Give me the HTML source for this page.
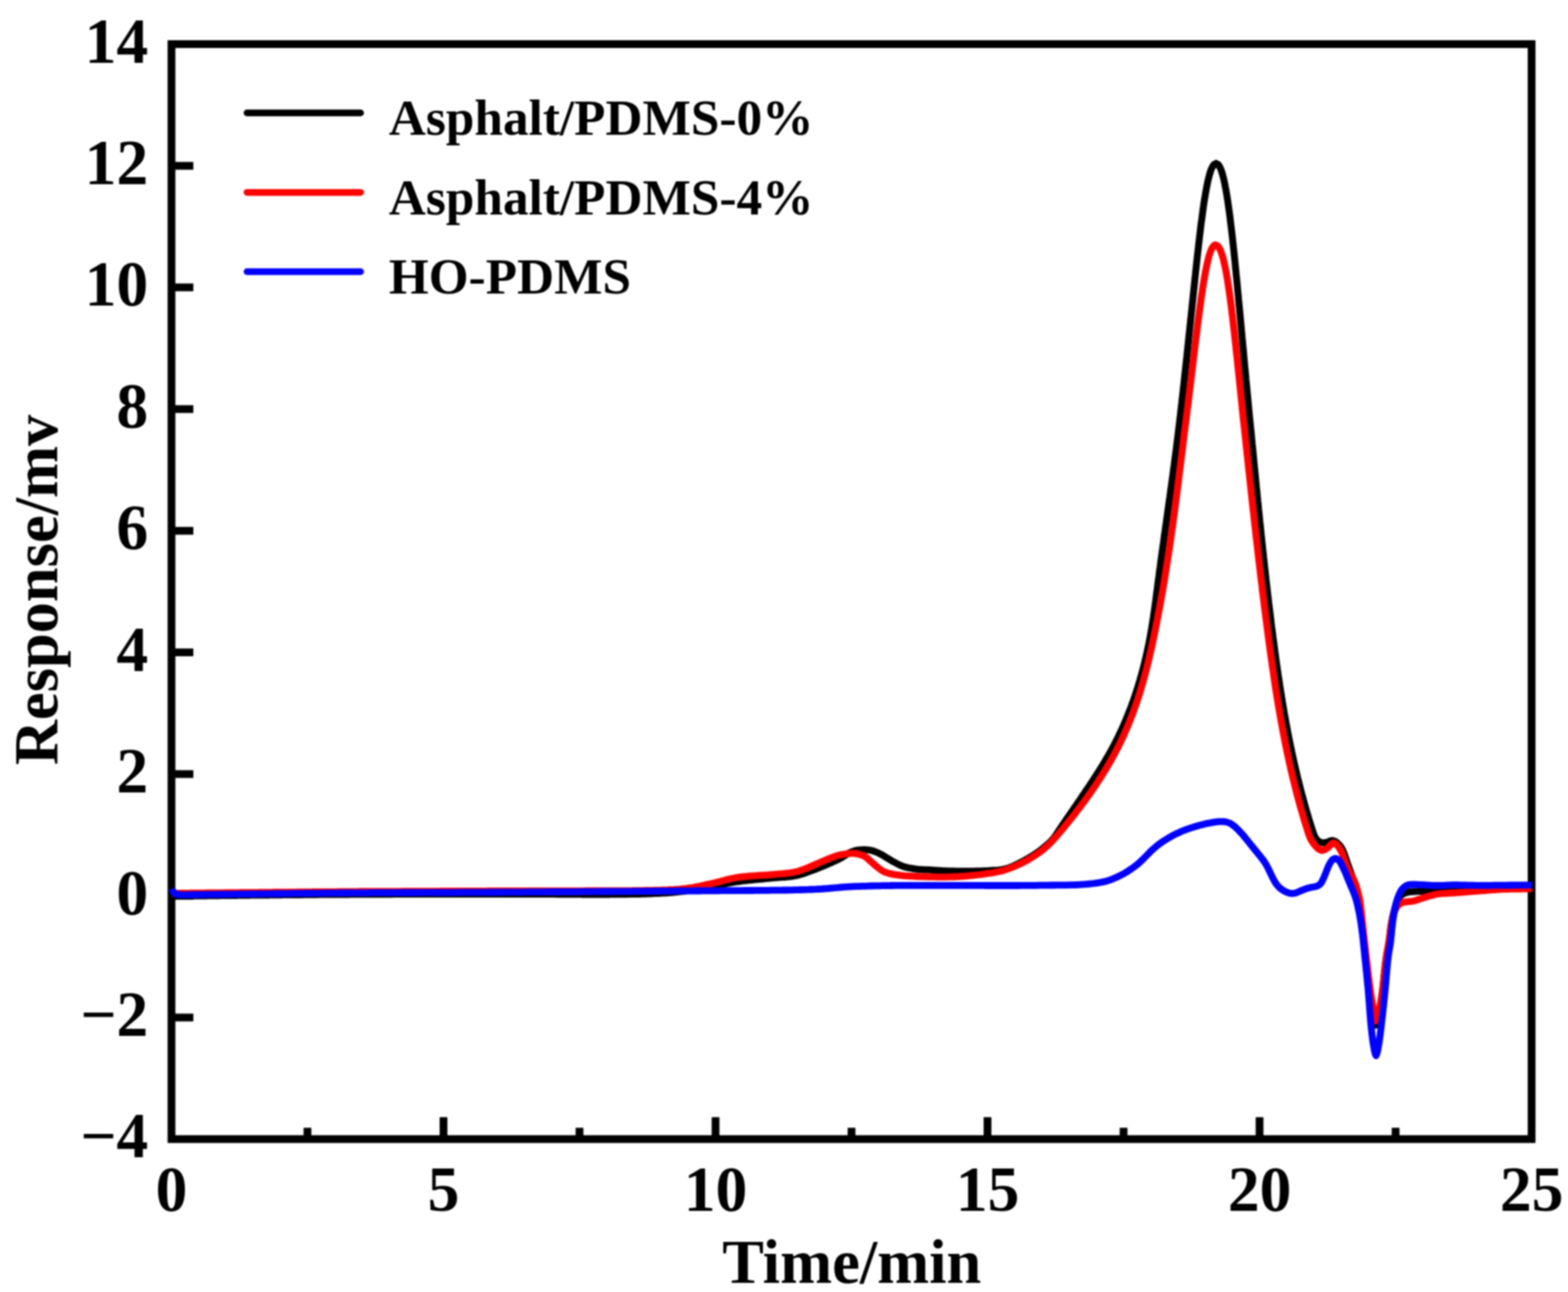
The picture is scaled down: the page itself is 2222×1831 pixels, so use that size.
<!DOCTYPE html><html><head><meta charset="utf-8"><style>html,body{margin:0;padding:0;background:#fff;}svg{display:block;filter:blur(0.8px);}text{font-family:"Liberation Serif","Times New Roman",serif;font-weight:bold;fill:#000;}</style></head><body>
<svg width="2222" height="1831" viewBox="0 0 2222 1831">
<rect x="0" y="0" width="2222" height="1831" fill="#fff"/>
<path d="M243.0 1441.9H274.0M243.0 1269.5H274.0M243.0 1097.0H274.0M243.0 924.6H274.0M243.0 752.2H274.0M243.0 579.8H274.0M243.0 407.3H274.0M243.0 234.9H274.0M435.7 1614.3V1598.3M628.5 1614.3V1583.3M821.2 1614.3V1598.3M1014.0 1614.3V1583.3M1206.7 1614.3V1598.3M1399.4 1614.3V1583.3M1592.2 1614.3V1598.3M1784.9 1614.3V1583.3M1977.7 1614.3V1598.3" stroke="#000" stroke-width="11" fill="none"/>
<rect x="243.0" y="62.5" width="1927.4" height="1551.8" fill="none" stroke="#000" stroke-width="11"/>
<g fill="none" stroke-width="9.8" stroke-linejoin="round" stroke-linecap="butt">
<path stroke="#000" d="M243.5 1270.0 L246.5 1270.0 L249.5 1269.9 L252.5 1269.9 L255.6 1269.9 L258.6 1269.8 L261.6 1269.8 L264.6 1269.8 L267.7 1269.7 L270.7 1269.7 L273.7 1269.7 L276.8 1269.6 L279.8 1269.6 L282.8 1269.6 L285.9 1269.5 L288.9 1269.5 L291.9 1269.5 L295.0 1269.4 L298.0 1269.4 L301.1 1269.4 L304.1 1269.3 L307.1 1269.3 L310.2 1269.3 L313.2 1269.2 L316.3 1269.2 L319.3 1269.2 L322.4 1269.1 L325.4 1269.1 L328.4 1269.1 L331.5 1269.0 L334.5 1269.0 L337.6 1268.9 L340.6 1268.9 L343.7 1268.9 L346.7 1268.8 L349.7 1268.8 L352.8 1268.8 L355.8 1268.7 L358.9 1268.7 L361.9 1268.7 L364.9 1268.6 L368.0 1268.6 L371.0 1268.6 L374.0 1268.5 L377.1 1268.5 L380.1 1268.5 L383.1 1268.4 L386.2 1268.4 L389.2 1268.4 L392.2 1268.3 L395.2 1268.3 L398.2 1268.3 L401.3 1268.2 L404.3 1268.2 L407.3 1268.2 L410.3 1268.1 L413.3 1268.1 L416.3 1268.1 L419.3 1268.1 L422.3 1268.0 L426.8 1268.0 L431.3 1267.9 L435.8 1267.9 L440.3 1267.9 L444.7 1267.8 L449.2 1267.8 L453.6 1267.7 L458.1 1267.7 L462.5 1267.7 L466.9 1267.6 L471.4 1267.6 L475.8 1267.6 L480.2 1267.5 L484.5 1267.5 L487.6 1267.5 L490.7 1267.5 L493.7 1267.5 L496.8 1267.4 L499.9 1267.4 L503.0 1267.4 L506.0 1267.4 L509.1 1267.4 L512.1 1267.4 L515.2 1267.4 L518.2 1267.3 L521.2 1267.3 L524.3 1267.3 L527.3 1267.3 L530.3 1267.3 L533.3 1267.3 L536.3 1267.3 L540.8 1267.3 L545.3 1267.3 L549.8 1267.3 L554.2 1267.3 L558.7 1267.2 L563.2 1267.2 L567.6 1267.2 L572.1 1267.2 L576.5 1267.2 L581.0 1267.2 L585.4 1267.2 L589.8 1267.2 L594.3 1267.2 L598.7 1267.2 L603.2 1267.2 L607.6 1267.2 L612.1 1267.2 L616.5 1267.2 L621.0 1267.2 L625.4 1267.2 L629.9 1267.2 L634.4 1267.2 L638.9 1267.2 L643.4 1267.2 L646.4 1267.2 L649.4 1267.2 L652.4 1267.2 L655.4 1267.2 L658.5 1267.1 L661.5 1267.1 L664.5 1267.1 L667.6 1267.1 L670.6 1267.1 L673.7 1267.1 L676.8 1267.1 L679.8 1267.1 L682.9 1267.1 L686.0 1267.1 L689.1 1267.1 L692.2 1267.0 L695.3 1267.0 L698.4 1267.0 L701.5 1267.0 L705.9 1267.0 L710.3 1267.0 L713.3 1267.0 L716.4 1267.0 L717.9 1267.0 L721.0 1267.0 L724.1 1267.0 L727.2 1267.0 L730.3 1267.0 L733.5 1267.0 L736.7 1267.0 L739.9 1267.0 L743.1 1267.0 L746.3 1267.0 L749.6 1267.0 L752.8 1267.1 L756.1 1267.1 L759.4 1267.1 L762.7 1267.1 L766.0 1267.1 L769.4 1267.1 L772.7 1267.2 L776.0 1267.2 L779.4 1267.2 L782.7 1267.2 L786.1 1267.2 L789.4 1267.3 L792.8 1267.3 L796.2 1267.3 L799.5 1267.3 L802.9 1267.3 L806.3 1267.4 L809.6 1267.4 L813.0 1267.4 L816.3 1267.4 L819.7 1267.4 L823.0 1267.4 L826.3 1267.5 L829.7 1267.5 L833.0 1267.5 L836.3 1267.5 L839.6 1267.5 L842.9 1267.5 L846.1 1267.5 L849.4 1267.5 L852.6 1267.5 L855.8 1267.5 L859.0 1267.5 L862.2 1267.5 L865.4 1267.4 L868.5 1267.4 L871.6 1267.4 L874.7 1267.4 L877.8 1267.4 L880.8 1267.3 L883.9 1267.3 L888.3 1267.3 L892.8 1267.2 L897.1 1267.1 L901.4 1267.0 L905.6 1267.0 L909.7 1266.9 L913.8 1266.8 L917.7 1266.6 L921.6 1266.5 L925.4 1266.4 L929.1 1266.2 L932.7 1266.1 L936.1 1265.9 L939.5 1265.7 L942.8 1265.5 L946.0 1265.3 L949.0 1265.1 L952.0 1264.8 L955.9 1264.5 L959.7 1264.1 L963.3 1263.7 L966.7 1263.3 L970.1 1262.8 L973.3 1262.4 L976.4 1261.9 L979.4 1261.4 L983.7 1260.7 L987.9 1259.9 L992.0 1259.1 L995.9 1258.4 L999.8 1257.6 L1003.7 1256.9 L1007.7 1256.2 L1010.7 1255.7 L1013.9 1255.2 L1017.0 1254.6 L1020.0 1254.0 L1024.4 1253.2 L1028.7 1252.3 L1033.0 1251.5 L1037.3 1250.7 L1040.3 1250.2 L1043.4 1249.7 L1046.4 1249.3 L1050.8 1248.7 L1053.8 1248.4 L1056.8 1248.0 L1059.9 1247.7 L1063.0 1247.3 L1066.1 1247.0 L1069.3 1246.7 L1072.4 1246.4 L1075.5 1246.1 L1078.6 1245.8 L1081.7 1245.5 L1084.7 1245.2 L1089.1 1244.8 L1093.6 1244.3 L1096.8 1244.1 L1100.0 1243.8 L1103.1 1243.6 L1106.3 1243.4 L1109.4 1243.2 L1112.4 1243.0 L1115.4 1242.7 L1119.8 1242.3 L1124.0 1241.7 L1128.0 1241.0 L1131.2 1240.3 L1134.3 1239.4 L1137.3 1238.5 L1140.2 1237.6 L1144.4 1236.0 L1148.6 1234.5 L1151.5 1233.4 L1154.5 1232.3 L1157.4 1231.2 L1160.3 1230.0 L1163.2 1228.8 L1166.1 1227.6 L1169.0 1226.4 L1171.9 1225.2 L1174.8 1223.9 L1177.7 1222.7 L1180.6 1221.4 L1183.6 1220.1 L1186.5 1218.7 L1189.3 1217.3 L1192.1 1215.8 L1194.8 1214.1 L1197.6 1212.4 L1200.3 1210.7 L1203.1 1209.0 L1205.9 1207.6 L1210.0 1206.0 L1213.2 1205.2 L1216.6 1204.7 L1219.9 1204.4 L1223.1 1204.2 L1224.7 1204.2 L1229.0 1204.4 L1232.6 1204.8 L1235.8 1205.5 L1239.0 1206.5 L1241.9 1207.6 L1244.8 1208.9 L1247.6 1210.3 L1250.3 1211.7 L1254.1 1214.1 L1256.7 1215.7 L1259.4 1217.3 L1262.2 1219.0 L1265.1 1220.7 L1268.0 1222.3 L1270.8 1223.8 L1273.5 1225.2 L1276.4 1226.6 L1279.3 1227.7 L1283.7 1228.9 L1286.7 1229.7 L1290.0 1230.3 L1293.3 1230.9 L1296.4 1231.4 L1300.7 1231.9 L1303.7 1232.1 L1306.8 1232.3 L1309.9 1232.5 L1313.1 1232.6 L1316.3 1232.7 L1319.4 1232.9 L1322.5 1233.1 L1325.5 1233.3 L1330.0 1233.6 L1334.4 1233.9 L1337.5 1234.1 L1340.6 1234.2 L1343.9 1234.3 L1347.2 1234.5 L1350.3 1234.5 L1354.5 1234.6 L1359.0 1234.6 L1362.1 1234.7 L1365.2 1234.7 L1366.8 1234.7 L1370.1 1234.7 L1373.4 1234.7 L1376.6 1234.6 L1379.9 1234.6 L1383.1 1234.5 L1386.2 1234.5 L1389.3 1234.4 L1393.7 1234.2 L1397.7 1234.1 L1400.8 1233.9 L1404.3 1233.7 L1407.7 1233.5 L1410.9 1233.3 L1414.0 1233.1 L1418.4 1232.5 L1422.6 1231.8 L1425.6 1231.1 L1428.7 1230.2 L1431.7 1229.1 L1434.5 1227.9 L1437.3 1226.7 L1441.4 1224.7 L1444.2 1223.3 L1446.9 1221.9 L1449.6 1220.5 L1452.3 1219.0 L1454.9 1217.5 L1457.6 1216.0 L1460.2 1214.4 L1462.9 1212.8 L1465.6 1211.1 L1468.5 1209.2 L1471.3 1207.2 L1474.1 1205.2 L1476.5 1203.3 L1478.9 1201.3 L1482.2 1198.5 L1485.7 1195.5 L1488.1 1193.2 L1490.5 1190.8 L1492.6 1188.4 L1494.5 1185.9 L1496.4 1183.3 L1498.1 1180.7 L1499.9 1178.0 L1501.7 1175.4 L1503.4 1172.7 L1505.2 1170.0 L1507.0 1167.3 L1508.9 1164.7 L1510.7 1162.0 L1512.5 1159.3 L1514.3 1156.7 L1516.1 1154.0 L1518.0 1151.3 L1519.8 1148.7 L1521.6 1146.0 L1523.5 1143.3 L1525.3 1140.7 L1527.1 1138.0 L1529.0 1135.3 L1530.8 1132.7 L1532.6 1130.0 L1534.4 1127.3 L1536.2 1124.7 L1538.0 1122.0 L1539.8 1119.3 L1541.6 1116.6 L1543.4 1114.0 L1545.2 1111.3 L1547.0 1108.6 L1548.7 1106.0 L1550.5 1103.3 L1552.2 1100.6 L1553.9 1098.0 L1555.6 1095.3 L1557.3 1092.6 L1559.0 1090.0 L1560.6 1087.3 L1562.3 1084.6 L1563.9 1082.0 L1565.5 1079.3 L1567.1 1076.6 L1568.6 1074.0 L1570.2 1071.3 L1571.7 1068.6 L1573.2 1066.0 L1575.4 1062.1 L1577.4 1058.2 L1579.5 1054.3 L1581.1 1051.1 L1582.8 1047.7 L1584.5 1044.4 L1586.0 1041.2 L1587.6 1038.0 L1589.0 1034.8 L1590.5 1031.6 L1591.9 1028.4 L1593.3 1025.2 L1594.7 1022.0 L1596.0 1018.8 L1597.3 1015.6 L1598.6 1012.4 L1599.9 1009.2 L1601.1 1006.0 L1602.4 1002.8 L1603.6 999.6 L1604.7 996.4 L1605.9 993.2 L1607.0 990.0 L1608.1 986.8 L1609.2 983.6 L1610.2 980.4 L1611.3 977.2 L1612.3 974.0 L1613.3 970.8 L1614.2 967.6 L1615.2 964.4 L1616.1 961.2 L1617.0 958.0 L1617.9 954.8 L1618.8 951.6 L1619.6 948.4 L1620.5 945.2 L1621.3 942.0 L1622.1 938.8 L1622.8 935.6 L1623.6 932.4 L1624.3 929.2 L1625.1 926.0 L1625.8 922.8 L1626.4 919.6 L1627.1 916.4 L1627.8 913.2 L1628.4 910.0 L1629.0 906.8 L1629.6 903.6 L1630.2 900.4 L1630.8 897.2 L1631.3 894.0 L1631.9 890.8 L1632.4 887.6 L1632.9 884.4 L1633.4 881.2 L1633.9 878.0 L1634.4 874.8 L1634.9 871.6 L1635.3 868.4 L1635.8 865.2 L1636.3 862.0 L1636.7 858.8 L1637.1 855.6 L1637.6 852.4 L1638.0 849.2 L1638.4 846.0 L1638.8 842.8 L1639.2 839.6 L1639.7 836.4 L1640.1 833.2 L1640.5 830.0 L1640.9 826.8 L1641.3 823.6 L1641.7 820.4 L1642.2 817.2 L1642.6 814.0 L1643.0 810.8 L1643.4 807.6 L1643.9 804.4 L1644.3 801.2 L1644.7 798.0 L1645.1 794.8 L1645.6 791.6 L1646.0 788.4 L1646.4 785.2 L1646.9 782.0 L1647.3 778.8 L1647.8 775.6 L1648.2 772.4 L1648.7 769.2 L1649.1 766.0 L1649.5 762.8 L1650.0 759.6 L1650.4 756.4 L1650.9 753.2 L1651.3 750.0 L1651.8 746.8 L1652.2 743.6 L1652.7 740.4 L1653.1 737.2 L1653.6 734.0 L1654.0 730.8 L1654.5 727.6 L1654.9 724.4 L1655.3 721.2 L1655.8 718.0 L1656.2 714.8 L1656.7 711.6 L1657.1 708.4 L1657.6 705.2 L1658.0 702.0 L1658.5 698.8 L1658.9 695.6 L1659.3 692.4 L1659.8 689.2 L1660.2 686.0 L1660.7 682.8 L1661.1 679.6 L1661.5 676.4 L1662.0 673.2 L1662.4 670.0 L1662.8 666.8 L1663.2 663.6 L1663.7 660.4 L1664.1 657.2 L1664.5 654.0 L1664.9 650.8 L1665.3 647.6 L1665.8 644.4 L1666.2 641.2 L1666.6 638.0 L1667.0 634.8 L1667.4 631.6 L1667.8 628.4 L1668.2 625.2 L1668.6 622.0 L1669.0 618.8 L1669.4 615.5 L1669.8 612.2 L1670.2 608.9 L1670.6 605.7 L1671.1 601.6 L1671.6 597.5 L1672.1 593.0 L1672.5 589.8 L1672.9 586.6 L1673.2 583.4 L1673.6 580.2 L1674.0 576.9 L1674.3 573.7 L1674.7 570.5 L1675.0 567.3 L1675.4 564.1 L1675.8 560.9 L1676.1 557.8 L1676.5 554.6 L1676.8 551.5 L1677.1 548.4 L1677.5 545.3 L1677.8 542.2 L1678.2 539.1 L1678.5 536.0 L1678.8 533.0 L1679.1 530.0 L1679.5 527.0 L1679.8 524.0 L1680.1 521.0 L1680.5 517.7 L1680.8 514.5 L1681.2 511.2 L1681.5 508.0 L1681.9 504.8 L1682.2 501.6 L1682.5 498.4 L1682.9 495.2 L1683.2 492.1 L1683.5 489.0 L1683.9 485.9 L1684.2 482.8 L1684.5 479.7 L1684.8 476.7 L1685.1 473.7 L1685.5 470.7 L1685.8 467.7 L1686.1 464.7 L1686.4 461.4 L1686.8 458.1 L1687.1 454.8 L1687.4 451.5 L1687.8 448.3 L1688.1 445.1 L1688.4 442.0 L1688.8 438.8 L1689.1 435.7 L1689.4 432.6 L1689.7 429.5 L1690.1 426.4 L1690.4 423.4 L1690.7 420.4 L1691.0 417.4 L1691.5 412.7 L1691.8 409.4 L1692.2 406.1 L1692.5 402.8 L1692.9 399.6 L1693.2 396.4 L1693.5 393.2 L1693.9 390.0 L1694.2 386.9 L1694.5 383.8 L1694.9 380.7 L1695.2 377.7 L1695.5 374.7 L1696.0 370.3 L1696.4 366.9 L1696.7 363.5 L1697.1 360.2 L1697.5 356.9 L1697.8 353.7 L1698.2 350.5 L1698.5 347.3 L1698.9 344.2 L1699.2 341.1 L1699.6 338.1 L1699.9 335.2 L1700.5 330.5 L1700.9 327.0 L1701.3 323.6 L1701.7 320.3 L1702.1 317.1 L1702.5 313.9 L1703.0 310.7 L1703.4 307.6 L1703.9 303.9 L1704.4 300.2 L1704.8 296.7 L1705.3 293.2 L1705.8 289.8 L1706.3 286.5 L1706.8 283.3 L1707.3 280.2 L1708.0 276.3 L1708.6 272.5 L1709.3 268.8 L1709.9 265.4 L1710.6 262.1 L1711.2 258.9 L1712.2 254.5 L1713.2 250.5 L1714.2 246.9 L1715.1 243.7 L1716.1 240.8 L1718.2 236.3 L1720.2 233.2 L1723.3 231.5 L1726.4 233.2 L1728.4 236.3 L1730.4 240.8 L1731.4 243.7 L1732.3 246.9 L1733.3 250.5 L1734.3 254.5 L1735.3 258.9 L1735.9 262.1 L1736.5 265.4 L1737.2 268.8 L1737.8 272.5 L1738.5 276.3 L1739.1 280.2 L1739.6 283.3 L1740.1 286.5 L1740.5 289.8 L1741.0 293.2 L1741.5 296.7 L1742.0 300.2 L1742.5 303.9 L1743.0 307.6 L1743.3 310.7 L1743.7 313.9 L1744.1 317.1 L1744.5 320.3 L1744.9 323.6 L1745.3 327.0 L1745.7 330.5 L1746.1 333.7 L1746.6 338.1 L1746.9 341.1 L1747.2 344.2 L1747.6 347.3 L1747.9 350.5 L1748.3 353.7 L1748.6 356.9 L1748.9 360.2 L1749.3 363.5 L1749.6 366.9 L1750.0 370.3 L1750.4 374.7 L1750.7 377.7 L1751.0 380.7 L1751.3 383.8 L1751.6 386.9 L1751.9 390.0 L1752.2 393.2 L1752.6 396.4 L1752.9 399.6 L1753.2 402.8 L1753.5 406.1 L1753.8 409.4 L1754.1 412.7 L1754.4 415.9 L1754.9 420.4 L1755.1 423.4 L1755.4 426.4 L1755.7 429.5 L1756.0 432.6 L1756.3 435.7 L1756.6 438.8 L1756.9 442.0 L1757.2 445.1 L1757.5 448.3 L1757.8 451.5 L1758.1 454.8 L1758.4 458.1 L1758.7 461.4 L1759.0 464.7 L1759.4 469.2 L1759.7 472.2 L1760.0 475.2 L1760.2 478.2 L1760.5 481.3 L1760.8 484.3 L1761.1 487.4 L1761.4 490.5 L1761.7 493.7 L1762.0 496.8 L1762.3 500.0 L1762.5 503.2 L1762.8 506.4 L1763.1 509.6 L1763.4 512.8 L1763.7 516.1 L1764.0 519.4 L1764.3 522.5 L1764.6 525.5 L1764.9 528.5 L1765.2 531.5 L1765.5 534.5 L1765.7 537.6 L1766.0 540.7 L1766.3 543.7 L1766.6 546.8 L1766.9 549.9 L1767.2 553.0 L1767.5 556.2 L1767.8 559.3 L1768.1 562.5 L1768.4 565.7 L1768.7 568.9 L1769.0 572.1 L1769.3 575.3 L1769.6 578.6 L1769.9 581.8 L1770.2 585.0 L1770.5 588.2 L1770.8 591.4 L1771.1 594.6 L1771.6 598.8 L1772.0 603.0 L1772.4 607.3 L1772.8 610.5 L1773.1 613.9 L1773.4 617.2 L1773.7 620.4 L1774.0 623.6 L1774.3 626.8 L1774.6 630.0 L1775.0 633.2 L1775.3 636.4 L1775.6 639.6 L1775.9 642.8 L1776.2 646.0 L1776.5 649.2 L1776.8 652.4 L1777.1 655.6 L1777.4 658.8 L1777.7 662.0 L1778.0 665.2 L1778.4 668.4 L1778.7 671.6 L1779.0 674.8 L1779.3 678.0 L1779.6 681.2 L1779.9 684.4 L1780.2 687.6 L1780.5 690.8 L1780.9 694.0 L1781.2 697.2 L1781.5 700.4 L1781.8 703.6 L1782.1 706.8 L1782.4 710.0 L1782.8 713.2 L1783.1 716.4 L1783.4 719.6 L1783.7 722.8 L1784.1 726.0 L1784.4 729.2 L1784.7 732.4 L1785.0 735.6 L1785.3 738.8 L1785.7 742.0 L1786.0 745.2 L1786.3 748.4 L1786.7 751.6 L1787.0 754.8 L1787.3 758.0 L1787.7 761.2 L1788.0 764.4 L1788.3 767.6 L1788.7 770.8 L1789.0 774.0 L1789.3 777.2 L1789.7 780.4 L1790.0 783.6 L1790.4 786.8 L1790.7 790.0 L1791.1 793.2 L1791.4 796.4 L1791.8 799.6 L1792.1 802.8 L1792.5 806.0 L1792.8 809.2 L1793.2 812.4 L1793.5 815.6 L1793.9 818.8 L1794.2 822.0 L1794.6 825.2 L1795.0 828.4 L1795.3 831.6 L1795.7 834.8 L1796.1 838.0 L1796.4 841.2 L1796.8 844.4 L1797.2 847.6 L1797.6 850.8 L1797.9 854.0 L1798.3 857.2 L1798.7 860.4 L1799.1 863.6 L1799.5 866.8 L1799.9 870.0 L1800.3 873.2 L1800.7 876.4 L1801.1 879.6 L1801.4 882.8 L1801.8 886.0 L1802.2 889.2 L1802.7 892.4 L1803.1 895.6 L1803.5 898.8 L1803.9 902.0 L1804.3 905.2 L1804.7 908.4 L1805.1 911.6 L1805.6 914.8 L1806.0 918.0 L1806.4 921.2 L1806.8 924.4 L1807.3 927.6 L1807.7 930.8 L1808.1 934.0 L1808.6 937.2 L1809.0 940.4 L1809.5 943.6 L1809.9 946.8 L1810.4 950.0 L1810.9 953.2 L1811.3 956.4 L1811.8 959.6 L1812.3 962.8 L1812.8 966.0 L1813.3 969.2 L1813.7 972.4 L1814.2 975.6 L1814.7 978.8 L1815.2 982.0 L1815.8 985.2 L1816.3 988.4 L1816.8 991.6 L1817.3 994.8 L1817.9 998.0 L1818.4 1001.2 L1818.9 1004.4 L1819.5 1007.6 L1820.0 1010.8 L1820.6 1014.0 L1821.2 1017.2 L1821.8 1020.4 L1822.3 1023.6 L1822.9 1026.8 L1823.5 1030.0 L1824.1 1033.2 L1824.7 1036.4 L1825.3 1039.6 L1826.0 1042.8 L1826.6 1046.0 L1827.2 1049.2 L1827.9 1052.4 L1828.5 1055.6 L1829.2 1058.8 L1829.9 1062.0 L1830.5 1065.2 L1831.2 1068.4 L1831.9 1071.6 L1832.6 1074.8 L1833.3 1078.0 L1834.0 1081.2 L1834.8 1084.4 L1835.5 1087.6 L1836.2 1090.8 L1837.0 1094.0 L1837.8 1097.2 L1838.5 1100.4 L1839.3 1103.6 L1840.1 1106.8 L1840.9 1110.0 L1841.7 1113.2 L1842.5 1116.4 L1843.3 1119.6 L1844.2 1122.8 L1845.0 1126.0 L1845.9 1129.2 L1846.8 1132.4 L1847.6 1135.6 L1848.5 1138.8 L1849.4 1142.0 L1850.3 1145.2 L1851.2 1148.4 L1852.2 1151.6 L1853.1 1154.8 L1854.1 1158.0 L1855.0 1161.2 L1856.0 1164.4 L1857.0 1167.6 L1858.0 1170.8 L1859.0 1173.9 L1860.0 1177.1 L1861.1 1180.3 L1862.3 1183.6 L1863.8 1186.8 L1866.3 1190.3 L1869.9 1193.1 L1873.0 1194.3 L1875.7 1194.4 L1879.0 1193.9 L1882.4 1193.1 L1885.2 1191.6 L1888.4 1191.2 L1892.6 1192.7 L1895.2 1194.6 L1897.7 1197.1 L1900.0 1200.0 L1902.1 1203.5 L1903.4 1206.3 L1904.6 1209.3 L1905.7 1212.4 L1906.8 1215.6 L1907.9 1218.9 L1908.9 1222.0 L1910.0 1225.0 L1911.1 1227.9 L1912.1 1230.8 L1913.2 1233.7 L1914.2 1236.5 L1915.2 1239.4 L1916.2 1242.2 L1917.1 1245.1 L1918.0 1248.0 L1918.9 1251.1 L1919.8 1254.1 L1920.6 1257.2 L1921.4 1260.3 L1922.2 1263.4 L1922.9 1266.5 L1923.7 1269.5 L1924.3 1272.5 L1925.0 1275.5 L1925.9 1279.9 L1926.7 1284.3 L1927.2 1287.3 L1927.7 1290.4 L1928.2 1293.4 L1928.9 1297.8 L1929.2 1300.8 L1929.6 1303.9 L1930.0 1307.0 L1930.4 1310.1 L1930.7 1313.4 L1931.1 1316.6 L1931.5 1320.0 L1932.0 1324.3 L1932.5 1328.7 L1932.8 1331.7 L1933.2 1334.8 L1933.5 1337.9 L1933.9 1341.0 L1934.2 1344.1 L1934.6 1347.3 L1934.9 1350.5 L1935.3 1353.6 L1935.6 1356.8 L1936.0 1360.0 L1936.5 1364.4 L1936.9 1367.5 L1937.2 1370.5 L1937.6 1373.6 L1938.0 1376.7 L1938.3 1379.8 L1938.7 1382.9 L1939.1 1386.0 L1939.5 1389.1 L1939.8 1392.1 L1940.2 1395.1 L1940.8 1399.4 L1941.3 1403.6 L1941.7 1406.6 L1942.2 1409.9 L1942.6 1413.1 L1943.1 1416.3 L1943.5 1419.3 L1944.0 1422.4 L1944.6 1426.8 L1945.3 1431.0 L1946.0 1435.0 L1946.6 1438.7 L1947.1 1442.7 L1947.7 1446.5 L1948.2 1449.8 L1949.2 1452.8 L1949.5 1453.0 L1951.1 1449.9 L1952.0 1446.6 L1952.9 1442.7 L1953.7 1438.7 L1954.5 1435.0 L1955.3 1431.0 L1956.0 1426.8 L1956.7 1422.4 L1957.1 1419.4 L1957.5 1416.3 L1957.9 1413.1 L1958.4 1409.9 L1958.8 1406.6 L1959.2 1403.6 L1959.7 1399.4 L1960.0 1396.4 L1960.3 1393.3 L1960.7 1390.2 L1961.0 1387.0 L1961.3 1383.8 L1961.6 1380.7 L1961.9 1377.5 L1962.3 1374.4 L1962.6 1371.3 L1962.9 1368.3 L1963.5 1364.0 L1964.0 1360.0 L1964.5 1356.5 L1965.1 1353.3 L1965.7 1350.1 L1966.3 1347.1 L1966.9 1344.2 L1967.4 1341.2 L1968.0 1338.1 L1968.5 1335.0 L1968.9 1331.9 L1969.3 1328.8 L1969.7 1325.5 L1970.0 1322.3 L1970.4 1319.0 L1970.7 1315.9 L1971.1 1312.8 L1971.8 1308.4 L1972.3 1305.3 L1973.0 1302.0 L1973.7 1298.8 L1974.5 1295.8 L1975.2 1292.8 L1976.4 1288.4 L1977.2 1285.2 L1978.0 1282.2 L1979.5 1278.0 L1980.8 1275.0 L1982.3 1272.3 L1985.3 1268.7 L1988.4 1266.8 L1991.6 1265.3 L1995.1 1264.4 L1998.4 1263.8 L2002.9 1263.5 L2006.4 1263.3 L2009.6 1263.1 L2013.1 1263.0 L2017.3 1262.8 L2020.3 1262.7 L2023.4 1262.6 L2026.7 1262.5 L2030.0 1262.3 L2033.4 1262.2 L2036.8 1262.1 L2040.2 1261.9 L2043.5 1261.8 L2046.7 1261.6 L2049.7 1261.5 L2054.0 1261.2 L2057.2 1260.9 L2061.6 1260.5 L2065.7 1260.1 L2069.7 1259.6 L2074.0 1259.1 L2077.2 1258.9 L2080.6 1258.6 L2084.7 1258.4 L2088.3 1258.2 L2092.0 1258.1 L2096.0 1258.0 L2100.1 1257.9 L2104.4 1257.9 L2108.9 1257.8 L2111.9 1257.8 L2115.0 1257.8 L2118.1 1257.7 L2121.3 1257.7 L2124.5 1257.7 L2127.7 1257.7 L2131.0 1257.7 L2134.2 1257.7 L2137.5 1257.7 L2140.8 1257.7 L2144.1 1257.6 L2147.3 1257.6 L2150.6 1257.6 L2153.8 1257.6 L2157.0 1257.6 L2160.2 1257.6 L2163.3 1257.6 L2166.4 1257.5 L2169.5 1257.5 L2171.0 1257.5"/>
<path stroke="#f00" d="M243.5 1266.0 L246.5 1266.0 L249.5 1265.9 L252.5 1265.9 L255.6 1265.9 L258.6 1265.9 L261.6 1265.8 L264.6 1265.8 L267.7 1265.8 L270.7 1265.7 L273.7 1265.7 L276.8 1265.7 L279.8 1265.6 L282.8 1265.6 L285.9 1265.6 L288.9 1265.6 L291.9 1265.5 L295.0 1265.5 L298.0 1265.5 L301.1 1265.4 L304.1 1265.4 L307.1 1265.4 L310.2 1265.3 L313.2 1265.3 L316.3 1265.3 L319.3 1265.2 L322.4 1265.2 L325.4 1265.2 L328.4 1265.1 L331.5 1265.1 L334.5 1265.1 L337.6 1265.1 L340.6 1265.0 L343.7 1265.0 L346.7 1265.0 L349.7 1264.9 L352.8 1264.9 L355.8 1264.9 L358.9 1264.8 L361.9 1264.8 L364.9 1264.8 L368.0 1264.7 L371.0 1264.7 L374.0 1264.7 L377.1 1264.7 L380.1 1264.6 L383.1 1264.6 L386.2 1264.6 L389.2 1264.5 L392.2 1264.5 L395.2 1264.5 L398.2 1264.4 L401.3 1264.4 L404.3 1264.4 L407.3 1264.4 L410.3 1264.3 L413.3 1264.3 L416.3 1264.3 L419.3 1264.3 L422.3 1264.2 L426.8 1264.2 L431.3 1264.1 L435.8 1264.1 L440.3 1264.1 L444.7 1264.0 L449.2 1264.0 L453.6 1263.9 L458.1 1263.9 L462.5 1263.9 L466.9 1263.8 L471.4 1263.8 L475.8 1263.8 L480.2 1263.7 L484.5 1263.7 L487.6 1263.7 L490.7 1263.7 L493.7 1263.6 L496.8 1263.6 L499.9 1263.6 L503.0 1263.6 L506.0 1263.6 L509.1 1263.5 L512.1 1263.5 L515.2 1263.5 L518.2 1263.5 L521.2 1263.5 L524.3 1263.5 L527.3 1263.4 L530.3 1263.4 L533.3 1263.4 L536.3 1263.4 L540.8 1263.4 L545.3 1263.4 L549.8 1263.3 L554.2 1263.3 L558.7 1263.3 L563.2 1263.3 L567.6 1263.3 L572.1 1263.2 L576.5 1263.2 L581.0 1263.2 L585.4 1263.2 L589.8 1263.2 L594.3 1263.2 L598.7 1263.1 L603.2 1263.1 L607.6 1263.1 L612.1 1263.1 L616.5 1263.1 L621.0 1263.1 L625.4 1263.0 L629.9 1263.0 L634.4 1263.0 L638.9 1263.0 L643.4 1263.0 L646.4 1263.0 L649.4 1262.9 L652.4 1262.9 L655.4 1262.9 L658.5 1262.9 L661.5 1262.9 L664.5 1262.9 L667.6 1262.9 L670.6 1262.9 L673.7 1262.8 L676.8 1262.8 L679.8 1262.8 L682.9 1262.8 L686.0 1262.8 L689.1 1262.8 L692.2 1262.7 L695.3 1262.7 L698.4 1262.7 L701.5 1262.7 L705.9 1262.7 L710.4 1262.6 L713.4 1262.6 L716.5 1262.6 L719.6 1262.6 L722.8 1262.6 L725.9 1262.6 L729.2 1262.6 L732.4 1262.6 L735.6 1262.6 L738.9 1262.6 L742.2 1262.6 L745.6 1262.6 L748.9 1262.6 L752.3 1262.6 L755.7 1262.6 L759.1 1262.6 L762.5 1262.6 L766.0 1262.6 L769.4 1262.6 L772.9 1262.6 L776.3 1262.6 L779.8 1262.6 L783.3 1262.6 L786.8 1262.6 L790.3 1262.6 L793.8 1262.6 L795.6 1262.6 L799.1 1262.6 L802.6 1262.6 L806.1 1262.6 L809.6 1262.6 L813.1 1262.6 L816.5 1262.6 L820.0 1262.6 L823.5 1262.6 L827.0 1262.6 L830.4 1262.5 L833.8 1262.5 L837.3 1262.5 L840.7 1262.5 L844.1 1262.5 L847.4 1262.5 L850.8 1262.5 L854.1 1262.5 L857.4 1262.5 L860.7 1262.5 L864.0 1262.5 L867.2 1262.4 L870.4 1262.4 L873.6 1262.4 L876.7 1262.4 L879.8 1262.4 L882.9 1262.4 L886.0 1262.3 L889.0 1262.3 L893.4 1262.3 L897.8 1262.2 L902.0 1262.2 L906.2 1262.1 L910.2 1262.1 L914.2 1262.0 L918.0 1262.0 L921.8 1261.9 L925.4 1261.8 L928.8 1261.7 L932.2 1261.7 L935.4 1261.6 L938.4 1261.5 L942.3 1261.3 L945.9 1261.2 L949.2 1261.0 L954.2 1260.8 L957.9 1260.5 L961.2 1260.3 L965.5 1259.9 L969.5 1259.5 L973.2 1259.0 L977.2 1258.4 L981.5 1257.8 L984.6 1257.2 L987.6 1256.7 L990.6 1256.1 L993.6 1255.4 L996.6 1254.8 L999.6 1254.1 L1002.7 1253.4 L1005.8 1252.7 L1009.0 1252.0 L1013.3 1251.0 L1017.6 1249.9 L1020.5 1249.1 L1023.5 1248.4 L1026.4 1247.6 L1029.4 1246.8 L1032.5 1246.1 L1035.5 1245.3 L1038.7 1244.7 L1041.8 1244.1 L1045.0 1243.5 L1049.3 1242.9 L1053.8 1242.4 L1056.8 1242.1 L1059.9 1241.8 L1063.0 1241.5 L1066.1 1241.3 L1069.3 1241.1 L1072.4 1240.9 L1075.5 1240.7 L1078.6 1240.5 L1081.7 1240.3 L1084.7 1240.1 L1089.1 1239.8 L1093.6 1239.3 L1096.8 1239.1 L1100.0 1238.8 L1103.1 1238.6 L1106.3 1238.3 L1109.4 1238.1 L1112.4 1237.8 L1115.4 1237.5 L1119.8 1237.0 L1124.0 1236.3 L1128.0 1235.5 L1131.3 1234.7 L1134.4 1233.7 L1137.3 1232.6 L1140.2 1231.5 L1143.0 1230.4 L1145.8 1229.2 L1148.6 1228.1 L1151.5 1226.9 L1154.5 1225.6 L1157.4 1224.3 L1160.3 1223.1 L1163.2 1221.8 L1166.1 1220.5 L1169.0 1219.3 L1171.9 1218.1 L1174.8 1216.9 L1177.7 1215.7 L1180.6 1214.6 L1183.6 1213.5 L1186.5 1212.6 L1189.6 1211.8 L1192.9 1211.1 L1196.2 1210.5 L1199.6 1210.0 L1202.7 1209.7 L1207.0 1209.4 L1208.7 1209.4 L1211.7 1209.6 L1216.0 1210.3 L1220.3 1211.5 L1223.2 1212.7 L1226.0 1214.1 L1228.7 1216.0 L1231.2 1218.2 L1233.7 1220.6 L1236.2 1222.8 L1238.7 1225.0 L1241.2 1227.2 L1243.7 1229.2 L1246.2 1231.1 L1249.8 1233.7 L1252.5 1235.2 L1255.3 1236.4 L1259.6 1237.7 L1262.7 1238.4 L1266.1 1239.1 L1269.5 1239.7 L1273.0 1240.2 L1277.1 1240.7 L1281.4 1241.1 L1285.9 1241.4 L1289.0 1241.6 L1292.1 1241.7 L1295.3 1241.9 L1298.6 1242.0 L1302.0 1242.1 L1306.1 1242.3 L1310.5 1242.4 L1314.9 1242.5 L1318.0 1242.6 L1321.1 1242.7 L1324.3 1242.7 L1327.4 1242.8 L1330.6 1242.8 L1333.8 1242.8 L1335.3 1242.8 L1338.5 1242.8 L1341.5 1242.8 L1344.6 1242.7 L1349.0 1242.6 L1352.1 1242.5 L1355.2 1242.3 L1358.3 1242.2 L1361.4 1242.0 L1364.5 1241.8 L1367.5 1241.6 L1370.5 1241.3 L1374.9 1240.9 L1379.4 1240.5 L1383.7 1240.0 L1388.0 1239.5 L1391.2 1239.1 L1394.5 1238.7 L1397.7 1238.2 L1400.9 1237.7 L1404.1 1237.3 L1407.3 1236.7 L1410.3 1236.2 L1414.7 1235.3 L1418.7 1234.4 L1421.7 1233.7 L1424.8 1232.7 L1427.7 1231.7 L1431.8 1230.2 L1436.0 1228.5 L1439.0 1227.3 L1441.8 1225.9 L1444.9 1224.6 L1447.9 1223.1 L1450.8 1221.6 L1453.7 1220.1 L1456.4 1218.6 L1459.2 1217.0 L1462.0 1215.3 L1464.6 1213.7 L1467.2 1212.0 L1469.7 1210.3 L1473.4 1207.7 L1476.8 1205.1 L1480.2 1202.3 L1482.6 1200.2 L1485.1 1197.9 L1487.5 1195.5 L1489.8 1193.1 L1491.9 1190.9 L1494.9 1187.6 L1497.7 1184.4 L1500.7 1180.9 L1503.0 1178.2 L1505.3 1175.4 L1507.6 1172.7 L1509.8 1170.0 L1512.0 1167.3 L1514.2 1164.6 L1516.3 1162.0 L1518.5 1159.3 L1520.6 1156.6 L1522.7 1154.0 L1524.7 1151.3 L1526.8 1148.6 L1528.8 1146.0 L1530.8 1143.3 L1532.8 1140.6 L1534.8 1138.0 L1536.8 1135.3 L1538.7 1132.6 L1540.7 1130.0 L1542.6 1127.3 L1544.4 1124.6 L1546.3 1122.0 L1548.1 1119.3 L1550.0 1116.6 L1551.8 1114.0 L1553.5 1111.3 L1555.3 1108.6 L1557.0 1106.0 L1558.8 1103.3 L1560.5 1100.6 L1562.1 1098.0 L1563.8 1095.3 L1565.4 1092.6 L1567.1 1090.0 L1568.6 1087.3 L1570.2 1084.6 L1571.8 1082.0 L1573.3 1079.3 L1574.8 1076.6 L1576.3 1074.0 L1578.4 1070.1 L1580.5 1066.2 L1582.5 1062.3 L1584.2 1059.1 L1585.8 1055.8 L1587.5 1052.4 L1589.0 1049.2 L1590.6 1046.0 L1592.0 1042.8 L1593.5 1039.6 L1594.9 1036.4 L1596.3 1033.2 L1597.7 1030.0 L1599.0 1026.8 L1600.3 1023.6 L1601.6 1020.4 L1602.8 1017.2 L1604.1 1014.0 L1605.3 1010.8 L1606.5 1007.6 L1607.6 1004.4 L1608.7 1001.2 L1609.9 998.0 L1610.9 994.8 L1612.0 991.6 L1613.1 988.4 L1614.1 985.2 L1615.1 982.0 L1616.1 978.8 L1617.0 975.6 L1618.0 972.4 L1618.9 969.2 L1619.8 966.0 L1620.7 962.8 L1621.6 959.6 L1622.5 956.4 L1623.3 953.2 L1624.1 950.0 L1625.0 946.8 L1625.8 943.6 L1626.6 940.4 L1627.3 937.2 L1628.1 934.0 L1628.9 930.8 L1629.6 927.6 L1630.3 924.4 L1631.0 921.2 L1631.8 918.0 L1632.5 914.8 L1633.2 911.6 L1633.8 908.4 L1634.5 905.2 L1635.2 902.0 L1635.9 898.8 L1636.5 895.6 L1637.2 892.4 L1637.8 889.2 L1638.4 886.0 L1639.1 882.8 L1639.7 879.6 L1640.3 876.4 L1640.9 873.2 L1641.5 870.0 L1642.1 866.8 L1642.7 863.6 L1643.3 860.4 L1643.9 857.2 L1644.5 854.0 L1645.1 850.8 L1645.6 847.6 L1646.2 844.4 L1646.8 841.2 L1647.3 838.0 L1647.9 834.8 L1648.4 831.6 L1649.0 828.4 L1649.5 825.2 L1650.0 822.0 L1650.6 818.8 L1651.1 815.6 L1651.6 812.4 L1652.1 809.2 L1652.6 806.0 L1653.1 802.8 L1653.6 799.6 L1654.1 796.4 L1654.6 793.2 L1655.1 790.0 L1655.6 786.8 L1656.1 783.6 L1656.6 780.4 L1657.1 777.2 L1657.5 774.0 L1658.0 770.8 L1658.5 767.6 L1658.9 764.4 L1659.4 761.2 L1659.8 758.0 L1660.3 754.8 L1660.7 751.6 L1661.2 748.4 L1661.6 745.2 L1662.1 742.0 L1662.5 738.8 L1662.9 735.6 L1663.4 732.4 L1663.8 729.2 L1664.2 726.0 L1664.7 722.8 L1665.1 719.6 L1665.5 716.4 L1665.9 713.2 L1666.3 710.0 L1666.8 706.8 L1667.2 703.6 L1667.6 700.4 L1668.0 697.2 L1668.4 694.0 L1668.8 690.8 L1669.2 687.6 L1669.6 684.4 L1670.0 681.2 L1670.4 678.0 L1670.8 674.8 L1671.2 671.6 L1671.6 668.4 L1672.0 665.2 L1672.4 662.0 L1672.8 658.8 L1673.2 655.6 L1673.6 652.4 L1674.0 649.2 L1674.4 646.0 L1674.8 642.8 L1675.2 639.6 L1675.6 636.4 L1676.0 633.2 L1676.4 630.0 L1676.7 626.8 L1677.1 623.6 L1677.5 620.4 L1677.9 617.2 L1678.3 613.9 L1678.7 610.6 L1679.1 607.4 L1679.7 603.1 L1680.3 598.6 L1680.7 595.4 L1681.1 592.0 L1681.5 588.6 L1681.9 585.4 L1682.3 582.3 L1682.7 579.1 L1683.1 576.0 L1683.5 572.9 L1683.9 569.8 L1684.2 566.7 L1684.6 563.6 L1685.0 560.6 L1685.3 557.6 L1685.7 554.4 L1686.1 550.9 L1686.6 547.5 L1687.0 544.1 L1687.4 540.7 L1687.8 537.4 L1688.2 534.1 L1688.6 530.8 L1689.0 527.5 L1689.4 524.3 L1689.7 521.1 L1690.1 517.9 L1690.5 514.8 L1690.9 511.7 L1691.2 508.6 L1691.6 505.6 L1692.0 502.6 L1692.3 499.6 L1692.7 496.3 L1693.2 492.8 L1693.6 489.3 L1694.0 485.9 L1694.4 482.5 L1694.8 479.2 L1695.2 475.9 L1695.7 472.6 L1696.1 469.4 L1696.5 466.2 L1696.8 463.1 L1697.2 460.0 L1697.6 456.9 L1698.0 453.9 L1698.6 449.5 L1699.1 445.8 L1699.5 442.3 L1700.0 438.8 L1700.5 435.3 L1700.9 432.0 L1701.4 428.7 L1701.8 425.5 L1702.3 422.3 L1702.7 419.2 L1703.2 416.1 L1703.8 412.2 L1704.3 408.4 L1704.9 404.6 L1705.5 401.0 L1706.1 397.6 L1706.6 394.2 L1707.2 390.9 L1707.8 387.8 L1708.3 384.8 L1709.2 380.5 L1710.0 376.4 L1710.8 372.6 L1711.7 369.1 L1712.5 365.8 L1713.3 362.8 L1715.0 357.6 L1716.6 353.4 L1718.3 350.3 L1720.8 347.5 L1722.5 347.0 L1726.2 349.1 L1727.9 351.7 L1729.7 355.4 L1731.4 360.1 L1732.7 364.3 L1733.6 367.4 L1734.4 370.8 L1735.2 374.5 L1736.1 378.4 L1736.9 382.6 L1737.6 386.3 L1738.2 389.3 L1738.7 392.5 L1739.3 395.9 L1739.8 399.3 L1740.4 402.8 L1740.9 406.5 L1741.5 410.2 L1742.1 414.2 L1742.5 417.7 L1743.0 420.7 L1743.4 423.9 L1743.8 427.1 L1744.2 430.3 L1744.7 433.7 L1745.1 437.1 L1745.5 440.5 L1745.9 444.1 L1746.4 447.6 L1746.8 451.3 L1747.2 455.0 L1747.6 458.4 L1748.0 461.5 L1748.3 464.6 L1748.7 467.8 L1749.1 471.0 L1749.4 474.2 L1749.8 477.5 L1750.1 480.8 L1750.5 484.2 L1750.9 487.6 L1751.3 491.1 L1751.6 494.6 L1752.0 498.1 L1752.3 501.1 L1752.6 504.1 L1753.0 507.1 L1753.3 510.2 L1753.6 513.3 L1753.9 516.4 L1754.3 519.5 L1754.6 522.7 L1754.9 525.9 L1755.3 529.2 L1755.6 532.4 L1755.9 535.7 L1756.3 539.0 L1756.6 542.4 L1757.0 545.8 L1757.3 549.2 L1757.7 552.6 L1758.0 556.1 L1758.3 559.1 L1758.6 562.1 L1759.0 565.2 L1759.3 568.2 L1759.6 571.3 L1759.9 574.4 L1760.2 577.5 L1760.5 580.7 L1760.9 583.9 L1761.2 587.0 L1761.5 590.3 L1761.9 593.7 L1762.2 597.0 L1762.6 600.1 L1763.1 604.5 L1763.6 609.0 L1763.9 612.3 L1764.3 615.6 L1764.6 618.8 L1765.0 622.0 L1765.3 625.2 L1765.6 628.4 L1766.0 631.6 L1766.3 634.8 L1766.7 638.0 L1767.0 641.2 L1767.3 644.4 L1767.7 647.6 L1768.0 650.8 L1768.4 654.0 L1768.7 657.2 L1769.1 660.4 L1769.4 663.6 L1769.7 666.8 L1770.1 670.0 L1770.4 673.2 L1770.8 676.4 L1771.1 679.6 L1771.5 682.8 L1771.8 686.0 L1772.2 689.2 L1772.5 692.4 L1772.8 695.6 L1773.2 698.8 L1773.5 702.0 L1773.9 705.2 L1774.2 708.4 L1774.6 711.6 L1774.9 714.8 L1775.3 718.0 L1775.6 721.2 L1776.0 724.4 L1776.4 727.6 L1776.7 730.8 L1777.1 734.0 L1777.4 737.2 L1777.8 740.4 L1778.1 743.6 L1778.5 746.8 L1778.9 750.0 L1779.2 753.2 L1779.6 756.4 L1779.9 759.6 L1780.3 762.8 L1780.7 766.0 L1781.0 769.2 L1781.4 772.4 L1781.8 775.6 L1782.1 778.8 L1782.5 782.0 L1782.9 785.2 L1783.2 788.4 L1783.6 791.6 L1784.0 794.8 L1784.4 798.0 L1784.7 801.2 L1785.1 804.4 L1785.5 807.6 L1785.9 810.8 L1786.2 814.0 L1786.6 817.2 L1787.0 820.4 L1787.4 823.6 L1787.8 826.8 L1788.2 830.0 L1788.6 833.2 L1788.9 836.4 L1789.3 839.6 L1789.7 842.8 L1790.1 846.0 L1790.5 849.2 L1790.9 852.4 L1791.3 855.6 L1791.7 858.8 L1792.1 862.0 L1792.5 865.2 L1792.9 868.4 L1793.3 871.6 L1793.7 874.8 L1794.1 878.0 L1794.5 881.2 L1795.0 884.4 L1795.4 887.6 L1795.8 890.8 L1796.2 894.0 L1796.6 897.2 L1797.0 900.4 L1797.5 903.6 L1797.9 906.8 L1798.3 910.0 L1798.7 913.2 L1799.2 916.4 L1799.6 919.6 L1800.0 922.8 L1800.5 926.0 L1800.9 929.2 L1801.4 932.4 L1801.8 935.6 L1802.3 938.8 L1802.7 942.0 L1803.2 945.2 L1803.6 948.4 L1804.1 951.6 L1804.6 954.8 L1805.0 958.0 L1805.5 961.2 L1806.0 964.4 L1806.5 967.6 L1806.9 970.8 L1807.4 974.0 L1807.9 977.2 L1808.4 980.4 L1808.9 983.6 L1809.4 986.8 L1810.0 990.0 L1810.5 993.2 L1811.0 996.4 L1811.5 999.6 L1812.1 1002.8 L1812.6 1006.0 L1813.2 1009.2 L1813.7 1012.4 L1814.3 1015.6 L1814.8 1018.8 L1815.4 1022.0 L1816.0 1025.2 L1816.6 1028.4 L1817.2 1031.6 L1817.8 1034.8 L1818.4 1038.0 L1819.0 1041.2 L1819.6 1044.4 L1820.2 1047.6 L1820.8 1050.8 L1821.5 1054.0 L1822.1 1057.2 L1822.8 1060.4 L1823.4 1063.6 L1824.1 1066.8 L1824.8 1070.0 L1825.5 1073.2 L1826.2 1076.4 L1826.9 1079.6 L1827.6 1082.8 L1828.3 1086.0 L1829.0 1089.2 L1829.8 1092.4 L1830.5 1095.6 L1831.3 1098.8 L1832.0 1102.0 L1832.8 1105.2 L1833.6 1108.4 L1834.4 1111.6 L1835.2 1114.8 L1836.0 1118.0 L1836.8 1121.2 L1837.6 1124.4 L1838.5 1127.6 L1839.3 1130.8 L1840.2 1134.0 L1841.1 1137.2 L1841.9 1140.4 L1842.8 1143.6 L1843.7 1146.8 L1844.7 1150.0 L1845.6 1153.2 L1846.5 1156.4 L1847.5 1159.6 L1848.4 1162.8 L1849.4 1166.0 L1850.4 1169.2 L1851.4 1172.4 L1852.4 1175.6 L1853.4 1178.8 L1854.5 1182.1 L1855.7 1185.3 L1857.0 1188.4 L1858.4 1191.1 L1860.7 1194.6 L1862.5 1196.9 L1864.5 1199.3 L1867.0 1201.8 L1869.5 1203.8 L1872.7 1205.2 L1873.5 1205.3 L1876.5 1204.6 L1879.1 1203.1 L1882.0 1201.0 L1884.7 1198.3 L1887.3 1195.7 L1890.0 1194.5 L1893.4 1196.2 L1895.6 1198.7 L1897.8 1201.7 L1899.4 1204.2 L1901.3 1207.8 L1902.9 1212.0 L1904.0 1215.1 L1905.1 1218.2 L1906.2 1221.3 L1907.2 1224.3 L1908.3 1227.3 L1910.2 1231.5 L1911.6 1234.3 L1913.1 1237.1 L1914.6 1239.8 L1916.1 1242.5 L1917.5 1245.2 L1918.8 1247.9 L1920.0 1250.7 L1921.1 1253.6 L1922.1 1256.6 L1923.0 1259.6 L1923.8 1262.5 L1924.6 1265.5 L1925.3 1268.5 L1926.0 1271.5 L1926.6 1274.6 L1927.1 1277.7 L1927.6 1280.8 L1928.0 1283.9 L1928.4 1287.0 L1928.8 1290.3 L1929.2 1293.4 L1929.7 1297.8 L1930.0 1300.8 L1930.3 1303.9 L1930.6 1307.0 L1931.0 1310.1 L1931.3 1313.4 L1931.6 1316.6 L1932.0 1320.0 L1932.5 1324.3 L1933.0 1328.7 L1933.3 1331.7 L1933.6 1334.8 L1934.0 1337.9 L1934.3 1341.0 L1934.7 1344.1 L1935.0 1347.3 L1935.4 1350.5 L1935.8 1353.6 L1936.1 1356.8 L1936.5 1360.0 L1937.0 1364.5 L1937.4 1367.5 L1937.7 1370.6 L1938.1 1373.7 L1938.5 1376.9 L1938.8 1380.0 L1939.2 1383.2 L1939.6 1386.3 L1940.0 1389.4 L1940.3 1392.4 L1940.9 1396.8 L1941.5 1401.0 L1942.0 1405.0 L1942.5 1408.5 L1943.0 1411.9 L1943.5 1415.1 L1944.0 1418.3 L1944.5 1421.3 L1945.0 1424.3 L1945.7 1428.6 L1946.3 1431.8 L1946.9 1435.8 L1947.5 1439.8 L1948.1 1443.4 L1949.1 1446.7 L1949.5 1447.0 L1951.3 1443.5 L1952.2 1439.9 L1953.2 1435.8 L1954.1 1431.8 L1954.8 1428.6 L1955.8 1424.3 L1956.3 1421.3 L1956.9 1418.3 L1957.4 1415.1 L1958.0 1411.9 L1958.5 1408.5 L1959.0 1405.0 L1959.5 1401.0 L1960.1 1396.7 L1960.4 1393.7 L1960.7 1390.6 L1961.0 1387.4 L1961.4 1384.3 L1961.7 1381.1 L1962.0 1377.9 L1962.3 1374.7 L1962.6 1371.6 L1963.0 1368.5 L1963.5 1364.1 L1964.0 1360.0 L1964.5 1356.6 L1965.0 1353.3 L1965.5 1350.1 L1966.0 1347.0 L1966.5 1344.0 L1967.0 1341.0 L1967.5 1338.0 L1968.0 1335.0 L1968.5 1332.0 L1969.0 1328.8 L1969.4 1325.5 L1969.8 1322.2 L1970.2 1319.0 L1970.6 1315.8 L1971.0 1312.8 L1971.7 1308.4 L1972.3 1305.3 L1973.1 1302.0 L1973.8 1298.9 L1974.6 1296.0 L1976.0 1292.0 L1977.3 1289.0 L1978.8 1286.3 L1981.7 1282.6 L1984.4 1280.4 L1987.4 1279.0 L1990.6 1278.4 L1994.0 1278.0 L1997.0 1277.7 L2000.7 1277.3 L2004.0 1276.7 L2008.4 1275.4 L2011.6 1274.2 L2015.0 1273.1 L2018.3 1272.0 L2021.4 1271.0 L2024.5 1270.1 L2027.6 1269.2 L2030.7 1268.4 L2033.8 1267.6 L2036.9 1267.0 L2040.0 1266.6 L2043.1 1266.3 L2046.2 1266.2 L2049.3 1266.0 L2052.4 1265.9 L2055.5 1265.7 L2058.6 1265.5 L2061.6 1265.3 L2064.6 1265.1 L2067.8 1264.8 L2071.0 1264.6 L2075.3 1264.3 L2079.7 1263.9 L2082.8 1263.7 L2085.9 1263.4 L2089.1 1263.2 L2092.3 1262.9 L2095.4 1262.7 L2099.7 1262.3 L2104.2 1262.0 L2107.2 1261.7 L2110.3 1261.5 L2113.5 1261.2 L2116.7 1261.0 L2119.9 1260.8 L2123.1 1260.6 L2126.4 1260.4 L2129.5 1260.2 L2133.9 1260.1 L2136.9 1260.0 L2139.9 1259.9 L2143.0 1259.9 L2146.1 1259.8 L2149.2 1259.8 L2152.3 1259.8 L2155.4 1259.8 L2158.6 1259.7 L2161.7 1259.7 L2164.8 1259.7 L2167.9 1259.6 L2171.0 1259.6"/>
<path stroke="#00f" d="M243.5 1259.5 L245.1 1263.1 L247.0 1266.0 L249.9 1267.3 L253.6 1267.9 L257.5 1268.2 L261.0 1268.3 L263.6 1268.3 L267.9 1268.2 L271.0 1268.2 L274.2 1268.1 L277.5 1268.0 L281.0 1267.9 L284.6 1267.9 L288.4 1267.8 L292.2 1267.7 L296.0 1267.6 L300.0 1267.6 L303.1 1267.6 L306.3 1267.6 L309.7 1267.5 L313.2 1267.5 L316.7 1267.5 L320.4 1267.4 L324.3 1267.4 L328.2 1267.3 L332.2 1267.3 L336.3 1267.2 L340.5 1267.2 L344.7 1267.1 L349.1 1267.1 L353.5 1267.0 L358.0 1267.0 L361.0 1266.9 L364.1 1266.9 L367.2 1266.9 L370.3 1266.8 L373.5 1266.8 L376.6 1266.7 L379.8 1266.7 L383.0 1266.7 L386.2 1266.6 L389.4 1266.6 L392.7 1266.5 L396.0 1266.5 L399.2 1266.5 L402.5 1266.4 L405.8 1266.4 L409.1 1266.3 L412.4 1266.3 L415.8 1266.2 L419.1 1266.2 L422.4 1266.2 L425.8 1266.1 L429.1 1266.1 L432.4 1266.0 L435.7 1266.0 L439.1 1266.0 L442.4 1265.9 L445.7 1265.9 L449.0 1265.9 L452.3 1265.8 L455.6 1265.8 L458.9 1265.8 L462.1 1265.7 L465.4 1265.7 L468.6 1265.7 L471.8 1265.6 L475.0 1265.6 L478.2 1265.6 L481.3 1265.5 L484.4 1265.5 L487.5 1265.5 L491.8 1265.5 L496.2 1265.4 L500.5 1265.4 L504.9 1265.4 L509.3 1265.3 L513.6 1265.3 L518.0 1265.3 L522.4 1265.3 L526.8 1265.2 L531.1 1265.2 L535.5 1265.2 L539.9 1265.2 L544.3 1265.1 L548.7 1265.1 L553.1 1265.1 L557.5 1265.1 L561.9 1265.1 L566.4 1265.0 L570.8 1265.0 L575.3 1265.0 L579.7 1265.0 L584.2 1265.0 L588.6 1265.0 L593.1 1265.0 L597.6 1264.9 L600.6 1264.9 L603.6 1264.9 L606.6 1264.9 L609.6 1264.9 L612.7 1264.9 L615.7 1264.9 L618.7 1264.9 L621.8 1264.9 L624.8 1264.8 L627.9 1264.8 L630.9 1264.8 L634.0 1264.8 L637.0 1264.8 L640.1 1264.8 L643.2 1264.8 L646.3 1264.8 L649.4 1264.7 L652.5 1264.7 L655.6 1264.7 L658.7 1264.7 L661.8 1264.7 L665.0 1264.7 L668.1 1264.7 L671.3 1264.7 L674.4 1264.6 L677.6 1264.6 L680.8 1264.6 L684.0 1264.6 L687.1 1264.6 L690.3 1264.6 L693.6 1264.5 L696.8 1264.5 L700.0 1264.5 L704.2 1264.5 L708.5 1264.5 L712.7 1264.4 L717.1 1264.4 L721.4 1264.4 L725.8 1264.3 L730.2 1264.3 L734.7 1264.3 L739.2 1264.3 L742.2 1264.3 L745.2 1264.2 L748.2 1264.2 L751.2 1264.2 L754.3 1264.2 L757.3 1264.2 L760.4 1264.1 L763.5 1264.1 L766.6 1264.1 L769.7 1264.1 L772.8 1264.1 L775.9 1264.0 L779.0 1264.0 L782.1 1264.0 L785.2 1264.0 L788.4 1264.0 L791.5 1264.0 L794.7 1263.9 L797.8 1263.9 L801.0 1263.9 L804.1 1263.9 L807.3 1263.9 L810.5 1263.8 L813.6 1263.8 L816.8 1263.8 L820.0 1263.8 L823.1 1263.7 L826.3 1263.7 L829.5 1263.7 L832.7 1263.7 L835.8 1263.7 L839.0 1263.6 L842.2 1263.6 L845.4 1263.6 L848.5 1263.6 L851.7 1263.6 L854.8 1263.5 L858.0 1263.5 L861.2 1263.5 L864.3 1263.5 L867.5 1263.5 L870.6 1263.4 L873.7 1263.4 L876.9 1263.4 L880.0 1263.4 L883.1 1263.3 L886.2 1263.3 L889.3 1263.3 L892.4 1263.3 L895.5 1263.3 L898.6 1263.2 L901.6 1263.2 L904.7 1263.2 L907.8 1263.2 L910.8 1263.1 L913.8 1263.1 L916.8 1263.1 L919.8 1263.1 L924.3 1263.0 L928.8 1263.0 L933.2 1263.0 L937.6 1262.9 L941.9 1262.9 L946.3 1262.9 L950.6 1262.8 L954.8 1262.8 L959.0 1262.7 L963.2 1262.7 L967.3 1262.7 L971.4 1262.6 L975.4 1262.6 L979.4 1262.6 L983.4 1262.5 L987.7 1262.5 L991.1 1262.5 L994.6 1262.4 L998.0 1262.4 L1001.4 1262.4 L1004.8 1262.3 L1008.2 1262.3 L1011.6 1262.3 L1015.0 1262.3 L1018.3 1262.3 L1021.7 1262.2 L1025.1 1262.2 L1028.4 1262.2 L1031.8 1262.2 L1035.1 1262.2 L1038.4 1262.1 L1041.7 1262.1 L1045.0 1262.1 L1048.3 1262.1 L1051.5 1262.1 L1054.7 1262.0 L1058.0 1262.0 L1061.2 1262.0 L1064.4 1262.0 L1067.5 1262.0 L1070.7 1261.9 L1073.8 1261.9 L1076.9 1261.9 L1080.0 1261.9 L1083.1 1261.8 L1086.1 1261.8 L1089.1 1261.8 L1093.6 1261.7 L1098.0 1261.7 L1102.3 1261.6 L1106.6 1261.6 L1110.8 1261.5 L1115.0 1261.5 L1119.1 1261.4 L1123.1 1261.3 L1127.0 1261.2 L1130.9 1261.1 L1134.6 1261.0 L1138.3 1260.9 L1141.9 1260.8 L1145.5 1260.7 L1148.9 1260.5 L1153.7 1260.3 L1157.2 1260.2 L1160.7 1260.0 L1163.9 1259.8 L1167.1 1259.5 L1170.2 1259.3 L1174.6 1259.0 L1178.9 1258.6 L1183.1 1258.2 L1187.3 1257.9 L1191.4 1257.5 L1195.5 1257.2 L1199.7 1256.9 L1204.0 1256.7 L1208.5 1256.4 L1212.9 1256.2 L1217.3 1256.1 L1221.7 1255.9 L1226.1 1255.8 L1230.4 1255.6 L1234.8 1255.5 L1239.2 1255.4 L1243.7 1255.3 L1246.7 1255.3 L1249.7 1255.2 L1252.8 1255.2 L1255.9 1255.1 L1259.1 1255.1 L1262.4 1255.0 L1265.4 1255.0 L1269.5 1254.9 L1273.8 1254.9 L1278.2 1254.9 L1282.6 1254.8 L1287.0 1254.8 L1290.1 1254.8 L1293.1 1254.8 L1296.1 1254.8 L1299.2 1254.8 L1302.3 1254.8 L1305.4 1254.8 L1307.0 1254.8 L1310.1 1254.8 L1313.2 1254.8 L1316.3 1254.8 L1319.5 1254.8 L1322.6 1254.8 L1325.8 1254.8 L1328.9 1254.8 L1332.0 1254.8 L1335.1 1254.8 L1338.2 1254.8 L1341.3 1254.8 L1344.4 1254.8 L1347.5 1254.8 L1350.5 1254.8 L1353.5 1254.8 L1356.6 1254.8 L1359.6 1254.8 L1362.7 1254.8 L1365.7 1254.8 L1368.8 1254.8 L1371.9 1254.8 L1375.0 1254.9 L1378.1 1254.9 L1381.2 1254.9 L1384.2 1254.9 L1387.3 1254.9 L1390.4 1254.9 L1393.5 1254.9 L1396.6 1255.0 L1399.6 1255.0 L1402.7 1255.0 L1405.7 1255.0 L1408.7 1255.0 L1411.7 1255.0 L1416.2 1255.0 L1420.6 1255.0 L1423.5 1255.0 L1427.9 1255.0 L1432.2 1255.0 L1436.6 1255.0 L1439.9 1255.0 L1443.1 1255.0 L1446.4 1254.9 L1449.7 1254.9 L1452.9 1254.9 L1456.2 1254.9 L1459.4 1254.9 L1462.6 1254.8 L1465.8 1254.8 L1468.9 1254.8 L1472.1 1254.7 L1475.1 1254.7 L1478.1 1254.7 L1481.2 1254.6 L1485.6 1254.6 L1489.8 1254.5 L1493.7 1254.5 L1497.3 1254.4 L1501.4 1254.4 L1505.1 1254.3 L1508.6 1254.3 L1511.7 1254.3 L1516.0 1254.2 L1520.2 1254.1 L1524.2 1254.0 L1528.3 1253.8 L1531.6 1253.6 L1534.9 1253.4 L1538.0 1253.2 L1541.1 1252.9 L1545.5 1252.5 L1549.7 1252.0 L1552.8 1251.6 L1556.2 1251.1 L1559.5 1250.5 L1562.6 1249.9 L1566.9 1249.0 L1569.8 1248.1 L1572.8 1247.1 L1576.9 1245.6 L1581.1 1243.8 L1583.9 1242.5 L1586.8 1241.1 L1589.6 1239.7 L1592.4 1238.2 L1595.3 1236.5 L1598.3 1234.6 L1601.2 1232.7 L1603.9 1230.9 L1607.3 1228.4 L1609.8 1226.6 L1612.6 1224.3 L1614.9 1222.3 L1617.7 1219.6 L1620.9 1216.5 L1623.3 1214.1 L1625.6 1211.7 L1628.0 1209.3 L1630.3 1206.9 L1632.7 1204.7 L1635.9 1201.7 L1638.3 1199.7 L1640.9 1197.7 L1643.4 1195.7 L1645.9 1193.9 L1648.4 1192.2 L1652.2 1189.8 L1656.0 1187.5 L1658.7 1185.9 L1661.4 1184.4 L1664.1 1183.0 L1666.8 1181.6 L1669.5 1180.4 L1673.6 1178.5 L1676.4 1177.4 L1679.3 1176.2 L1682.3 1175.1 L1685.2 1174.1 L1688.1 1173.1 L1691.1 1172.2 L1694.0 1171.3 L1696.9 1170.5 L1699.8 1169.6 L1702.8 1168.9 L1707.1 1167.8 L1711.4 1166.9 L1714.4 1166.3 L1717.8 1165.7 L1721.3 1165.1 L1724.7 1164.7 L1727.8 1164.4 L1732.0 1164.3 L1735.3 1164.5 L1738.3 1165.0 L1742.5 1166.5 L1745.4 1168.1 L1748.3 1170.3 L1751.0 1172.6 L1753.4 1174.8 L1755.7 1177.1 L1758.0 1179.6 L1760.4 1182.2 L1763.2 1185.5 L1765.1 1187.9 L1767.1 1190.3 L1769.1 1192.8 L1771.0 1195.2 L1773.7 1198.6 L1776.6 1202.1 L1778.5 1204.5 L1780.5 1206.9 L1782.4 1209.3 L1784.5 1211.8 L1786.6 1214.4 L1788.6 1217.0 L1790.5 1219.5 L1793.0 1223.2 L1794.8 1226.2 L1796.4 1229.2 L1797.8 1232.1 L1799.2 1235.0 L1800.6 1238.0 L1802.1 1241.1 L1803.6 1244.2 L1805.1 1247.1 L1806.7 1249.8 L1808.4 1252.5 L1810.2 1254.9 L1813.3 1258.1 L1815.9 1260.2 L1818.8 1262.1 L1821.8 1263.7 L1824.7 1264.9 L1827.6 1265.9 L1831.8 1266.3 L1835.7 1265.6 L1838.6 1264.5 L1841.7 1263.1 L1844.6 1261.9 L1847.4 1260.8 L1850.4 1259.7 L1853.4 1258.7 L1856.3 1257.9 L1859.4 1257.3 L1862.6 1256.7 L1865.7 1256.0 L1869.2 1254.4 L1871.9 1251.7 L1873.5 1249.1 L1874.9 1246.2 L1876.3 1243.1 L1877.5 1240.3 L1878.7 1237.1 L1880.0 1233.8 L1881.2 1230.7 L1882.4 1227.9 L1883.8 1225.0 L1885.5 1221.9 L1888.0 1218.6 L1890.9 1216.9 L1892.7 1216.6 L1896.3 1218.2 L1898.4 1220.6 L1900.0 1223.2 L1901.7 1226.3 L1903.3 1229.6 L1904.6 1232.5 L1906.5 1236.5 L1907.7 1239.5 L1908.9 1242.5 L1910.2 1245.5 L1911.4 1248.5 L1912.6 1251.4 L1914.3 1255.5 L1915.5 1258.3 L1916.7 1261.1 L1917.9 1263.9 L1919.0 1266.8 L1920.0 1269.6 L1921.0 1272.5 L1921.9 1275.4 L1922.7 1278.3 L1923.4 1281.3 L1924.1 1284.2 L1924.8 1287.3 L1925.5 1290.4 L1926.1 1293.4 L1926.9 1297.9 L1927.4 1300.9 L1927.9 1303.9 L1928.4 1307.1 L1928.9 1310.2 L1929.3 1313.4 L1929.8 1316.7 L1930.2 1320.0 L1930.8 1324.3 L1931.3 1328.7 L1931.8 1333.2 L1932.1 1336.2 L1932.4 1339.3 L1932.7 1342.4 L1933.1 1345.5 L1933.4 1348.7 L1933.7 1351.9 L1934.0 1355.2 L1934.3 1358.2 L1934.8 1362.5 L1935.3 1366.9 L1935.6 1369.9 L1935.9 1372.9 L1936.2 1376.0 L1936.5 1379.0 L1936.8 1382.1 L1937.1 1385.2 L1937.4 1388.3 L1937.7 1391.4 L1938.0 1394.5 L1938.3 1397.6 L1938.6 1400.6 L1938.9 1403.7 L1939.1 1406.7 L1939.4 1409.8 L1939.6 1412.9 L1939.9 1416.0 L1940.1 1419.1 L1940.4 1422.3 L1940.6 1425.4 L1940.8 1428.6 L1941.1 1431.7 L1941.3 1434.8 L1941.5 1437.8 L1941.8 1440.8 L1942.1 1445.2 L1942.5 1449.5 L1942.9 1453.5 L1943.2 1456.9 L1943.6 1460.2 L1943.9 1463.4 L1944.3 1466.6 L1944.7 1469.6 L1945.2 1474.0 L1945.8 1478.2 L1946.5 1482.0 L1947.2 1486.0 L1948.0 1490.1 L1948.8 1493.6 L1950.0 1496.0 L1951.6 1492.0 L1952.4 1488.1 L1953.1 1483.9 L1953.7 1480.8 L1954.4 1476.8 L1955.0 1472.6 L1955.6 1468.1 L1956.0 1465.0 L1956.4 1461.8 L1956.8 1458.5 L1957.2 1455.2 L1957.6 1452.2 L1958.0 1448.1 L1958.5 1443.8 L1959.0 1439.3 L1959.4 1436.3 L1959.7 1433.3 L1960.0 1430.2 L1960.4 1427.0 L1960.7 1423.9 L1961.0 1420.7 L1961.3 1417.6 L1961.7 1414.4 L1962.0 1411.3 L1962.3 1408.2 L1962.6 1405.2 L1962.9 1402.1 L1963.2 1399.0 L1963.5 1395.9 L1963.8 1392.7 L1964.0 1389.4 L1964.3 1386.2 L1964.6 1383.0 L1964.9 1379.8 L1965.1 1376.7 L1965.4 1373.5 L1965.7 1370.5 L1966.1 1366.1 L1966.5 1361.9 L1967.0 1358.0 L1967.3 1355.0 L1967.8 1351.6 L1968.3 1348.5 L1969.1 1344.1 L1969.8 1339.7 L1970.3 1336.6 L1970.7 1333.5 L1971.0 1330.5 L1971.4 1327.4 L1971.7 1324.2 L1972.0 1320.9 L1972.3 1317.7 L1972.6 1314.6 L1973.0 1311.5 L1973.3 1308.5 L1973.7 1305.3 L1974.2 1302.0 L1974.7 1298.7 L1975.2 1295.6 L1975.7 1292.5 L1976.3 1289.5 L1976.9 1286.5 L1977.7 1283.2 L1978.5 1280.0 L1979.3 1276.9 L1980.3 1273.9 L1981.3 1271.0 L1982.5 1268.0 L1983.9 1265.0 L1985.3 1262.3 L1988.2 1258.6 L1991.0 1256.2 L1994.0 1254.5 L1998.3 1253.6 L2002.0 1253.5 L2004.2 1253.5 L2008.1 1253.6 L2012.6 1253.8 L2015.9 1254.0 L2019.3 1254.2 L2022.7 1254.4 L2026.1 1254.6 L2029.4 1254.8 L2032.6 1254.9 L2037.0 1255.0 L2040.3 1255.0 L2043.4 1254.9 L2047.8 1254.7 L2052.2 1254.4 L2055.2 1254.3 L2058.3 1254.2 L2061.4 1254.2 L2065.6 1254.2 L2069.9 1254.3 L2074.2 1254.4 L2077.2 1254.5 L2080.3 1254.6 L2083.6 1254.6 L2086.9 1254.7 L2090.4 1254.8 L2094.0 1254.8 L2097.7 1254.8 L2100.3 1254.8 L2104.3 1254.8 L2108.5 1254.8 L2112.9 1254.8 L2117.4 1254.7 L2120.4 1254.7 L2123.5 1254.7 L2126.6 1254.7 L2129.8 1254.6 L2132.9 1254.6 L2136.1 1254.6 L2139.4 1254.5 L2142.6 1254.5 L2145.8 1254.4 L2149.0 1254.4 L2152.2 1254.4 L2155.4 1254.3 L2158.6 1254.3 L2161.8 1254.3 L2164.9 1254.3 L2168.0 1254.2 L2171.0 1254.2"/>
</g>
<text x="210" y="1640.3" font-size="90" text-anchor="end">−4</text>
<text x="210" y="1467.9" font-size="90" text-anchor="end">−2</text>
<text x="210" y="1295.5" font-size="90" text-anchor="end">0</text>
<text x="210" y="1123.0" font-size="90" text-anchor="end">2</text>
<text x="210" y="950.6" font-size="90" text-anchor="end">4</text>
<text x="210" y="778.2" font-size="90" text-anchor="end">6</text>
<text x="210" y="605.8" font-size="90" text-anchor="end">8</text>
<text x="210" y="433.3" font-size="90" text-anchor="end">10</text>
<text x="210" y="260.9" font-size="90" text-anchor="end">12</text>
<text x="210" y="88.5" font-size="90" text-anchor="end">14</text>
<text x="243.0" y="1716" font-size="90" text-anchor="middle">0</text>
<text x="628.5" y="1716" font-size="90" text-anchor="middle">5</text>
<text x="1014.0" y="1716" font-size="90" text-anchor="middle">10</text>
<text x="1399.4" y="1716" font-size="90" text-anchor="middle">15</text>
<text x="1784.9" y="1716" font-size="90" text-anchor="middle">20</text>
<text x="2170.4" y="1716" font-size="90" text-anchor="middle">25</text>
<text x="1207" y="1818" font-size="88.5" text-anchor="middle">Time/min</text>
<text transform="translate(80.6 836) rotate(-90)" x="0" y="0" font-size="88.5" text-anchor="middle">Response/mv</text>
<line x1="350" y1="160" x2="511" y2="160" stroke="#000" stroke-width="9.5" stroke-linecap="round"/>
<text x="551" y="191" font-size="72.7">Asphalt/PDMS-0%</text>
<line x1="350" y1="272.7" x2="511" y2="272.7" stroke="#f00" stroke-width="9.5" stroke-linecap="round"/>
<text x="551" y="303.7" font-size="72.7">Asphalt/PDMS-4%</text>
<line x1="350" y1="385" x2="511" y2="385" stroke="#00f" stroke-width="9.5" stroke-linecap="round"/>
<text x="551" y="416" font-size="72.7">HO-PDMS</text>
</svg></body></html>
